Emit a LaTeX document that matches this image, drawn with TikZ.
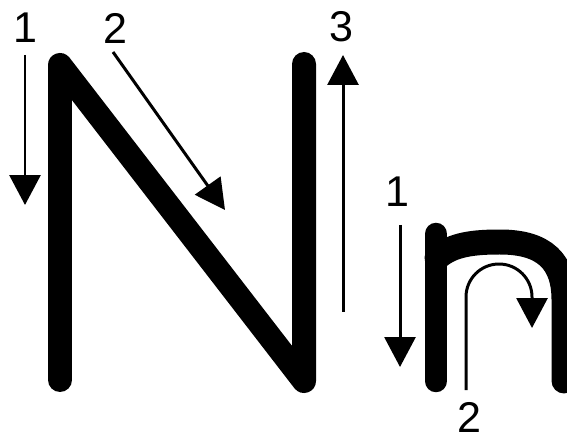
\documentclass[tikz,border=0pt]{standalone}
\usepackage{fontspec}
\setmainfont{Liberation Sans}
\usetikzlibrary{arrows.meta}
\begin{document}
\begin{tikzpicture}[
  x=0.02cm, y=-0.02cm,
  every node/.style={
    inner sep=0pt,
    font=\fontsize{24.5}{29}\selectfont
  },
  letter/.style={line width=0.48cm, line cap=round, line join=round},
  guide/.style={line width=1.7pt, -{Triangle[width=0.62cm, length=0.6cm]}}
]
\useasboundingbox (0,0) rectangle (567,438);
% capital N
\draw[letter] (60,380) -- (60,65) -- (304,381) -- (304,64);
% small n
\draw[letter, line width=0.45cm] (436,381) -- (436,234);
\draw[letter, line width=0.5cm] (437,258) .. controls (452,244) and (475,242) .. (500,242)
  .. controls (545,242) and (564,262) .. (564,300) -- (564,381);
% labels
\node (n1) at (25,28) {1};
\node (n2) at (115,28) {2};
\node (n3) at (341,27) {3};
\node (s1) at (397,192) {1};
\node (s2) at (469,417) {2};
% stroke guides
\coordinate (a1) at (25,55);
\coordinate (b1) at (25,205);
\coordinate (a2) at (113,52);
\coordinate (b2) at (225,210);
\coordinate (a3) at (343,312);
\coordinate (b3) at (343,55);
\coordinate (c1) at (400,225);
\coordinate (d1) at (400,367);
\coordinate (c2) at (466,390);
\coordinate (d2) at (532,328);
\draw[guide] (a1) -- (b1);
\draw[guide] (a2) -- (b2);
\draw[guide] (a3) -- (b3);
\draw[guide] (c1) -- (d1);
\draw[guide] (c2) -- (466,297) arc[start angle=180, end angle=360, radius=33] -- (d2);
\end{tikzpicture}
\end{document}
